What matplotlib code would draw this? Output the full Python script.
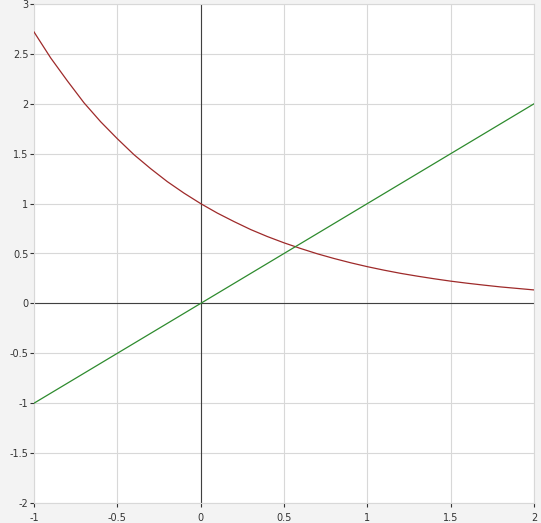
import matplotlib
matplotlib.use("Agg")
import matplotlib.pyplot as plt

# Data
red_x = [-1.0, -0.9, -0.8, -0.7, -0.6, -0.5, -0.4, -0.3, -0.2, -0.1, 0.0,
         0.1, 0.2, 0.3, 0.4, 0.5, 0.6, 0.7, 0.8, 0.9, 1.0,
         1.1, 1.2, 1.3, 1.4, 1.5, 1.6, 1.7, 1.8, 1.9, 2.0]
red_y = [2.72, 2.46, 2.23, 2.01, 1.82, 1.65, 1.49, 1.35, 1.22, 1.105, 1.00,
         0.905, 0.82, 0.74, 0.67, 0.607, 0.55, 0.497, 0.45, 0.407, 0.368,
         0.333, 0.301, 0.273, 0.247, 0.223, 0.202, 0.183, 0.165, 0.150, 0.135]
green_x = [-1.0, 2.0]
green_y = [-1.0, 2.0]

x_ticks = [-1, -0.5, 0, 0.5, 1, 1.5, 2]
x_labels = ["-1", "-0.5", "0", "0.5", "1", "1.5", "2"]
y_ticks = [-2, -1.5, -1, -0.5, 0, 0.5, 1, 1.5, 2, 2.5, 3]
y_labels = ["-2", "-1.5", "-1", "-0.5", "0", "0.5", "1", "1.5", "2", "2.5", "3"]

fig = plt.figure(figsize=(5.41, 5.23), dpi=100)
fig.patch.set_facecolor("#f3f3f3")
ax = fig.add_axes([34 / 541, 20 / 523, 500 / 541, 499 / 523])
ax.set_facecolor("white")

ax.set_xlim(-1, 2)
ax.set_ylim(-2, 3)
ax.set_xticks(x_ticks)
ax.set_xticklabels(x_labels)
ax.set_yticks(y_ticks)
ax.set_yticklabels(y_labels)
ax.grid(True, color="#d8d8d8", linewidth=0.8)
ax.set_axisbelow(True)

ax.axhline(0, color="#404040", linewidth=0.8, zorder=2)
ax.axvline(0, color="#404040", linewidth=0.8, zorder=2)

ax.plot(red_x, red_y, color="#9e2a2a", linewidth=0.9, zorder=3)
ax.plot(green_x, green_y, color="#2e8b2e", linewidth=0.9, zorder=3)

for s in ax.spines.values():
    s.set_color("#d8d8d8")
    s.set_linewidth(0.8)

ax.tick_params(axis="both", direction="out", length=3, width=0.8, color="#333333",
               labelsize=7, labelcolor="#333333", pad=1)
ax.tick_params(axis="x", pad=4)

fig.savefig("out.png", dpi=100, facecolor=fig.get_facecolor())
